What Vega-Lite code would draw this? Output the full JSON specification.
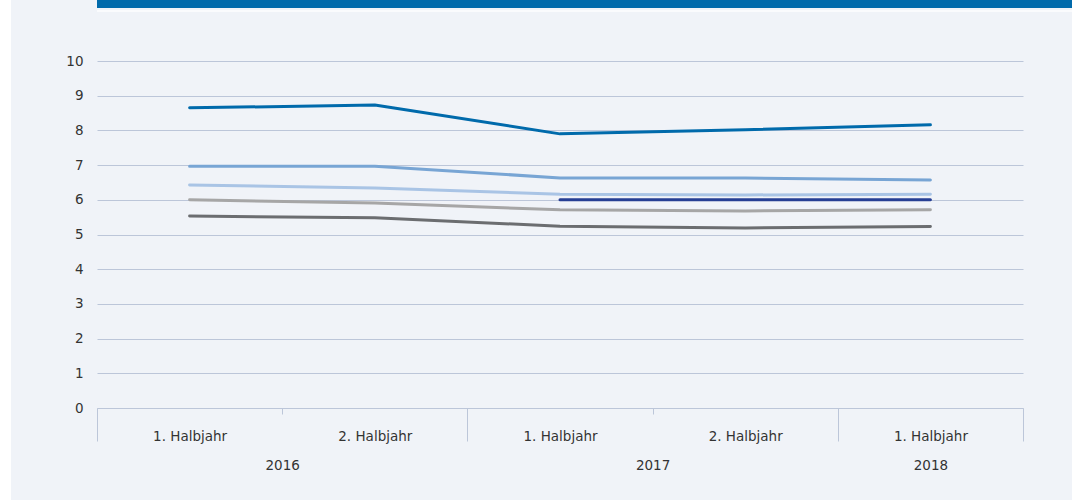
{
  "$schema": "https://vega.github.io/schema/vega-lite/v6.json",
  "padding": 0,
  "background": "#f0f3f8",
  "spacing": 0,
  "config": {
    "view": {"stroke": null},
    "font": "DejaVu Sans",
    "axis": {"labelFont": "DejaVu Sans", "labelFontSize": 13.5, "labelColor": "#333333", "title": null},
    "axisY": {"values": [0, 1, 2, 3, 4, 5, 6, 7, 8, 9, 10], "grid": true, "gridColor": "#bcc6d9", "domain": false, "ticks": false, "labelPadding": 14, "minExtent": 86, "maxExtent": 86}
  },
  "datasets": {
    "values": [
      {"series": "Reihe 1", "year": "2016", "half": "1. Halbjahr", "pos": 0.5, "value": 8.65},
      {"series": "Reihe 1", "year": "2016", "half": "2. Halbjahr", "pos": 1.5, "value": 8.73},
      {"series": "Reihe 1", "year": "2017", "half": "1. Halbjahr", "pos": 2.5, "value": 7.9},
      {"series": "Reihe 1", "year": "2017", "half": "2. Halbjahr", "pos": 3.5, "value": 8.02},
      {"series": "Reihe 1", "year": "2018", "half": "1. Halbjahr", "pos": 4.5, "value": 8.16},
      {"series": "Reihe 2", "year": "2016", "half": "1. Halbjahr", "pos": 0.5, "value": 6.97},
      {"series": "Reihe 2", "year": "2016", "half": "2. Halbjahr", "pos": 1.5, "value": 6.97},
      {"series": "Reihe 2", "year": "2017", "half": "1. Halbjahr", "pos": 2.5, "value": 6.63},
      {"series": "Reihe 2", "year": "2017", "half": "2. Halbjahr", "pos": 3.5, "value": 6.63},
      {"series": "Reihe 2", "year": "2018", "half": "1. Halbjahr", "pos": 4.5, "value": 6.57},
      {"series": "Reihe 3", "year": "2016", "half": "1. Halbjahr", "pos": 0.5, "value": 6.43},
      {"series": "Reihe 3", "year": "2016", "half": "2. Halbjahr", "pos": 1.5, "value": 6.34},
      {"series": "Reihe 3", "year": "2017", "half": "1. Halbjahr", "pos": 2.5, "value": 6.16},
      {"series": "Reihe 3", "year": "2017", "half": "2. Halbjahr", "pos": 3.5, "value": 6.14},
      {"series": "Reihe 3", "year": "2018", "half": "1. Halbjahr", "pos": 4.5, "value": 6.16},
      {"series": "Reihe 5", "year": "2016", "half": "1. Halbjahr", "pos": 0.5, "value": 6.0},
      {"series": "Reihe 5", "year": "2016", "half": "2. Halbjahr", "pos": 1.5, "value": 5.91},
      {"series": "Reihe 5", "year": "2017", "half": "1. Halbjahr", "pos": 2.5, "value": 5.71},
      {"series": "Reihe 5", "year": "2017", "half": "2. Halbjahr", "pos": 3.5, "value": 5.68},
      {"series": "Reihe 5", "year": "2018", "half": "1. Halbjahr", "pos": 4.5, "value": 5.71},
      {"series": "Reihe 6", "year": "2016", "half": "1. Halbjahr", "pos": 0.5, "value": 5.53},
      {"series": "Reihe 6", "year": "2016", "half": "2. Halbjahr", "pos": 1.5, "value": 5.48},
      {"series": "Reihe 6", "year": "2017", "half": "1. Halbjahr", "pos": 2.5, "value": 5.24},
      {"series": "Reihe 6", "year": "2017", "half": "2. Halbjahr", "pos": 3.5, "value": 5.19},
      {"series": "Reihe 6", "year": "2018", "half": "1. Halbjahr", "pos": 4.5, "value": 5.23},
      {"series": "Reihe 4", "year": "2017", "half": "1. Halbjahr", "pos": 2.5, "value": 6.0},
      {"series": "Reihe 4", "year": "2017", "half": "2. Halbjahr", "pos": 3.5, "value": 6.0},
      {"series": "Reihe 4", "year": "2018", "half": "1. Halbjahr", "pos": 4.5, "value": 6.0}
    ]
  },
  "hconcat": [
    {"width": 11, "height": 500, "view": {"fill": "#ffffff", "stroke": null}, "data": {"values": [{"k": 1}]}, "mark": {"type": "point", "opacity": 0}, "encoding": {}},
    {
      "concat": [
        {
          "concat": [
            {"width": 975, "height": 8, "view": {"fill": "#006aab", "stroke": null}, "data": {"values": [{"k": 1}]}, "mark": {"type": "point", "opacity": 0}, "encoding": {}},
            {"width": 975, "height": 2, "view": {"fill": "#fafbfd", "stroke": null}, "data": {"values": [{"k": 1}]}, "mark": {"type": "point", "opacity": 0}, "encoding": {}}
          ],
          "columns": 1,
          "align": "none",
          "spacing": 0
        },
        {
          "width": 926,
          "height": 347,
          "data": {"name": "values"},
          "resolve": {"scale": {"x": "independent"}, "axis": {"x": "independent"}},
          "layer": [
            {
              "mark": {"type": "point", "opacity": 0},
              "encoding": {
                "x": {"field": "pos", "type": "quantitative", "scale": {"domain": [0, 5], "nice": false, "zero": false},
                  "axis": {"orient": "bottom", "values": [0, 2, 4, 5], "ticks": true, "tickSize": 33, "tickColor": "#bcc6d9", "labels": false, "domain": false, "grid": false}},
                "y": {"field": "value", "type": "quantitative", "scale": {"domain": [0, 10], "nice": false}}
              }
            },
            {
              "mark": {"type": "point", "opacity": 0},
              "encoding": {
                "x": {"field": "pos", "type": "quantitative", "scale": {"domain": [0, 5], "nice": false, "zero": false},
                  "axis": {"orient": "bottom", "values": [1, 3], "ticks": true, "tickSize": 6, "tickColor": "#bcc6d9", "labels": false, "domain": false, "grid": false}},
                "y": {"field": "value", "type": "quantitative", "scale": {"domain": [0, 10], "nice": false}}
              }
            },
            {
              "mark": {"type": "point", "opacity": 0},
              "encoding": {
                "x": {"field": "pos", "type": "quantitative", "scale": {"domain": [0, 5], "nice": false, "zero": false},
                  "axis": {"orient": "bottom", "values": [1, 3, 4.5], "labelExpr": "datum.value == 1 ? '2016' : datum.value == 3 ? '2017' : '2018'", "ticks": false, "labels": true, "labelPadding": 50, "domain": false, "grid": false}},
                "y": {"field": "value", "type": "quantitative", "scale": {"domain": [0, 10], "nice": false}}
              }
            },
            {
              "mark": {"type": "line", "strokeWidth": 3, "strokeCap": "round", "strokeJoin": "round"},
              "encoding": {
                "x": {"field": "pos", "type": "quantitative", "scale": {"domain": [0, 5], "nice": false, "zero": false},
                  "axis": {"orient": "bottom", "values": [0.5, 1.5, 2.5, 3.5, 4.5], "labelExpr": "(datum.value == 1.5 || datum.value == 3.5) ? '2. Halbjahr' : '1. Halbjahr'", "ticks": false, "labelPadding": 21, "domain": true, "domainColor": "#bcc6d9", "grid": false}},
                "y": {"field": "value", "type": "quantitative", "scale": {"domain": [0, 10], "nice": false}},
                "color": {"field": "series", "type": "nominal",
                  "scale": {"domain": ["Reihe 1", "Reihe 2", "Reihe 3", "Reihe 4", "Reihe 5", "Reihe 6"], "range": ["#006aab", "#78a5d4", "#a9c4e5", "#263f94", "#a6a6a6", "#6b6d70"]},
                  "legend": null}
              }
            }
          ]
        }
      ],
      "columns": 1,
      "align": "none",
      "spacing": 40
    }
  ]
}
